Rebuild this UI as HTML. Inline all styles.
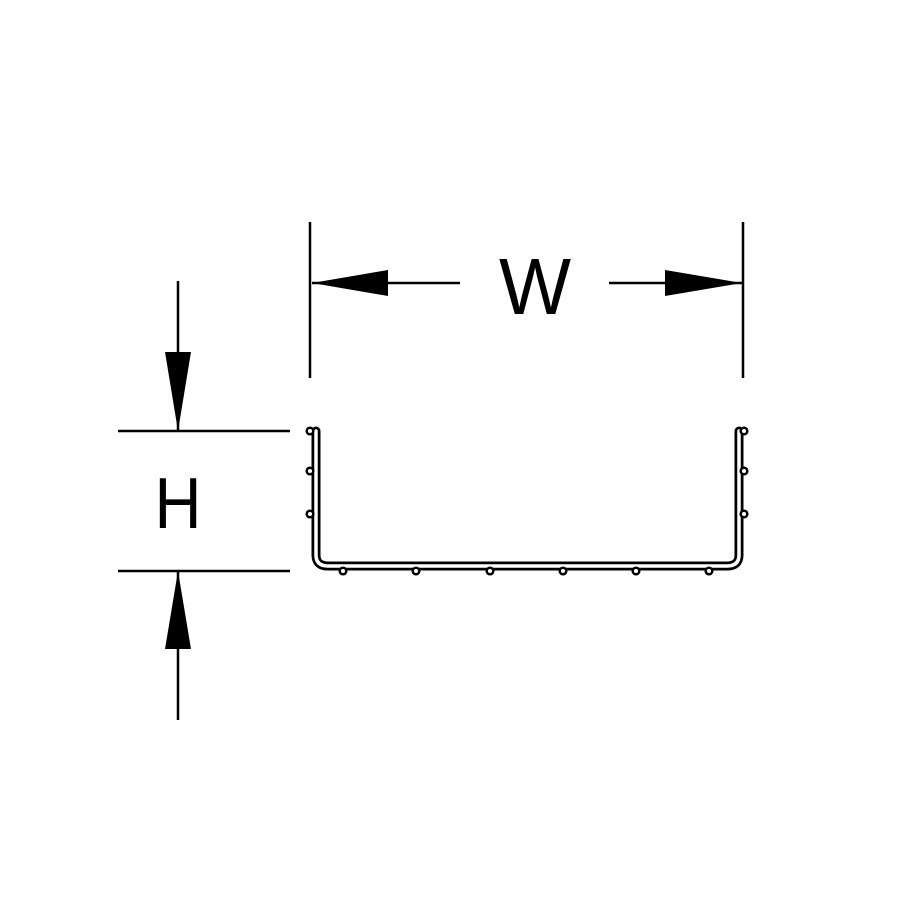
<!DOCTYPE html>
<html><head><style>html,body{margin:0;padding:0;background:#fff}</style></head>
<body>
<svg width="900" height="900" viewBox="0 0 900 900" xmlns="http://www.w3.org/2000/svg">
<g stroke="#000" stroke-width="2.5" fill="none">
<line x1="310" y1="222" x2="310" y2="378"/>
<line x1="743" y1="222" x2="743" y2="378"/>
<line x1="312" y1="283" x2="460" y2="283"/>
<line x1="609" y1="283" x2="742" y2="283"/>
<line x1="118" y1="431" x2="290" y2="431"/>
<line x1="118" y1="571" x2="290" y2="571"/>
<line x1="178" y1="281" x2="178" y2="431"/>
<line x1="178" y1="571" x2="178" y2="720"/>
</g>
<g fill="#000">
<polygon points="312,283 388,270 388,296"/>
<polygon points="742,283 665,270 665,296"/>
<polygon points="178,431 165,352 191,352"/>
<polygon points="178,571 165,649 191,649"/>
</g>
<text x="535" y="314" font-family="Liberation Sans, sans-serif" font-size="80" text-anchor="middle" textLength="72" lengthAdjust="spacingAndGlyphs">W</text>
<text x="178" y="528" font-family="Liberation Sans, sans-serif" font-size="72" text-anchor="middle" textLength="47" lengthAdjust="spacingAndGlyphs">H</text>
<path d="M316,431 L316,555 Q316,566 328,566 L727,566 Q739,566 739,555 L739,431" stroke="#000" stroke-width="9" fill="none" stroke-linecap="round"/>
<path d="M316,431 L316,555 Q316,566 328,566 L727,566 Q739,566 739,555 L739,431" stroke="#fff" stroke-width="3.5" fill="none" stroke-linecap="round"/>
<g stroke="#000" stroke-width="2.5" fill="#fff">
<circle cx="310" cy="431" r="3.3"/><circle cx="310" cy="471" r="3.3"/><circle cx="310" cy="514" r="3.3"/>
<circle cx="744" cy="431" r="3.3"/><circle cx="744" cy="471" r="3.3"/><circle cx="744" cy="514" r="3.3"/>
<circle cx="343" cy="571" r="3.3"/><circle cx="416" cy="571" r="3.3"/><circle cx="490" cy="571" r="3.3"/>
<circle cx="563" cy="571" r="3.3"/><circle cx="636" cy="571" r="3.3"/><circle cx="709" cy="571" r="3.3"/>
</g>
</svg>
</body></html>
